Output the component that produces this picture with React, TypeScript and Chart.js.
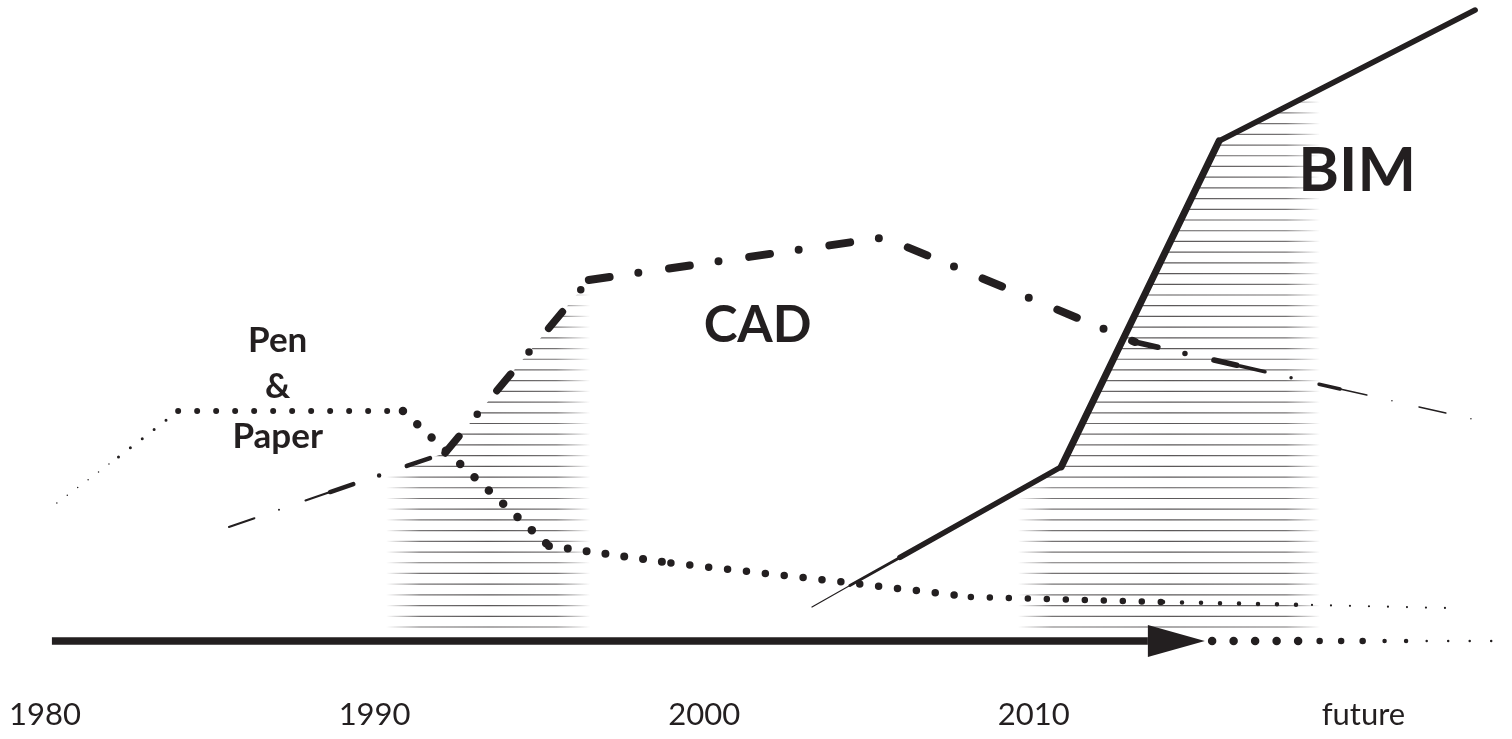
import React, { useEffect, useRef } from "react";
import { Chart, registerables } from "chart.js";

Chart.register(...registerables);

// ---- data (x = year, y = adoption level) ----
const TICK_YEARS = [1980, 1990, 2000, 2010, 2020];
const TICK_LABELS = ["1980", "1990", "2000", "2010", "future"];

const PEN_YEARS = [1980.36, 1982.23, 1984.04, 1990.86, 1995.29, 1998.99, 2004.21, 2008.09, 2013.92, 2018.44, 2022.48];
const PEN_LEVELS = [21.53, 28.7, 35.88, 35.88, 14.82, 12.17, 9.2, 6.86, 6.08, 5.62, 5.15];

const CAD_YEARS = [1985.58, 1988.65, 1992.14, 1996.5, 2005.46, 2013.07, 2016.26, 2019.29, 2023.3];
const CAD_LEVELS = [17.78, 23.24, 29.33, 56.32, 62.95, 46.65, 42.89, 39.31, 34.63];

const BIM_YEARS = [2003.27, 2004.42, 2005.94, 2010.83, 2015.62, 2023.39];
const BIM_LEVELS = [5.3, 8.64, 13.03, 27.15, 78.0, 98.44];

const TIMELINE_YEARS = [1980.21, 2013.46];
const TIMELINE_LEVELS = [0, 0];
const ARROW_TIP_YEAR = 2015.19;

const FUTURE_YEARS = [2015.41, 2018.02, 2019.99, 2021.92, 2023.9];
const FUTURE_LEVELS = [0, 0, 0, 0, 0];

// hatched transition periods
const HATCH_DATASETS = [1, 2];
const HATCH_FROM = [1990.35, 2009.52];
const HATCH_TO = [1996.54, 2018.68];
const HATCH_FLOOR = 2.18;

const LABEL_TEXTS = ["Pen", "&", "Paper", "CAD", "BIM"];
const LABEL_YEARS = [1987.06, 1987.06, 1987.06, 2001.62, 2019.81];
const LABEL_LEVELS = [45.13, 37.86, 30.03, 46.69, 70.2];

// ---- styles ----
const INK = "#231f20";
const X_MIN = 1978.635;
const X_MAX = 2024.508;
const Y_MIN = -7.93;
const Y_MAX = 100;
const LABEL_SIZES = [35, 35, 35, 51, 62];

const PEN_WIDTHS = [1.5, 3, 6, 8.5, 8, 7.5, 7.5, 6.5, 4.5, 2.2];
const PEN_GAPS = [13, 15, 19, 19.5, 19, 19, 19, 19, 19, 19];
const CAD_WIDTHS = [2, 4.5, 7.5, 8, 8, 5.5, 3.5, 1.5];
const BIM_WIDTHS = [1.2, 2.8, 5.5, 7, 5.5];
const FUTURE_WIDTHS = [8.5, 6.5, 4.5, 2.5];

const pts = (xs: number[], ys: number[]) => xs.map((x, i) => ({ x, y: ys[i] }));

const dashDot = (w: number) => [Math.max(29 - w, 1), 25 + w / 2, 0, 27 + w / 2];

const hatchPlugin = {
  id: "hatch",
  beforeDatasetsDraw(chart: any) {
    const { ctx } = chart;
    const { x, y } = chart.scales;
    const yb = y.getPixelForValue(HATCH_FLOOR);
    const y0 = y.getPixelForValue(0);
    HATCH_DATASETS.forEach((di, k) => {
      const els = chart.getDatasetMeta(di).data;
      if (!els || !els.length) return;
      const x0 = x.getPixelForValue(HATCH_FROM[k]);
      const x1 = x.getPixelForValue(HATCH_TO[k]);
      if (!isFinite(x0) || !isFinite(x1)) return;
      ctx.save();
      ctx.beginPath();
      ctx.moveTo(els[0].x, els[0].y);
      for (let i = 1; i < els.length; i++) ctx.lineTo(els[i].x, els[i].y);
      ctx.lineTo(els[els.length - 1].x, y0);
      ctx.lineTo(els[0].x, y0);
      ctx.closePath();
      ctx.clip();
      const f = Math.min(0.3, 34 / (x1 - x0));
      const grad = ctx.createLinearGradient(x0, 0, x1, 0);
      grad.addColorStop(0, "rgba(35,31,32,0)");
      grad.addColorStop(f, "rgba(35,31,32,0.62)");
      grad.addColorStop(0.5, "rgba(35,31,32,0.75)");
      grad.addColorStop(1 - f, "rgba(35,31,32,0.62)");
      grad.addColorStop(1, "rgba(35,31,32,0)");
      ctx.strokeStyle = grad;
      ctx.lineWidth = 1.2;
      for (let yy = yb; yy > 0; yy -= 10.71) {
        ctx.beginPath();
        ctx.moveTo(x0, yy);
        ctx.lineTo(x1, yy);
        ctx.stroke();
      }
      ctx.restore();
    });
  },
};

const overlayPlugin = {
  id: "overlay",
  afterDatasetsDraw(chart: any) {
    const { ctx } = chart;
    const { x, y } = chart.scales;
    const bx = x.getPixelForValue(TIMELINE_YEARS[TIMELINE_YEARS.length - 1]);
    const tx = x.getPixelForValue(ARROW_TIP_YEAR);
    const yy = y.getPixelForValue(0);
    ctx.save();
    ctx.fillStyle = INK;
    ctx.beginPath();
    ctx.moveTo(bx, yy - 16);
    ctx.lineTo(tx, yy);
    ctx.lineTo(bx, yy + 16);
    ctx.closePath();
    ctx.fill();
    ctx.textAlign = "center";
    ctx.textBaseline = "alphabetic";
    LABEL_TEXTS.forEach((t, i) => {
      ctx.font = `bold ${LABEL_SIZES[i]}px Lato`;
      ctx.fillText(t, x.getPixelForValue(LABEL_YEARS[i]), y.getPixelForValue(LABEL_LEVELS[i]));
    });
    ctx.restore();
  },
};

export default function App() {
  const ref = useRef<HTMLCanvasElement>(null);
  useEffect(() => {
    if (!ref.current) return;
    const chart = new Chart(ref.current, {
      type: "line",
      data: {
        datasets: [
          {
            label: "Pen & Paper",
            data: pts(PEN_YEARS, PEN_LEVELS),
            borderColor: INK,
            borderCapStyle: "round",
            fill: false,
            segment: {
              borderWidth: (c: any) => PEN_WIDTHS[c.p0DataIndex],
              borderDash: (c: any) => [0, PEN_GAPS[c.p0DataIndex]],
            },
          },
          {
            label: "CAD",
            data: pts(CAD_YEARS, CAD_LEVELS),
            borderColor: INK,
            borderCapStyle: "round",
            fill: false,
            segment: {
              borderWidth: (c: any) => CAD_WIDTHS[c.p0DataIndex],
              borderDash: (c: any) => dashDot(CAD_WIDTHS[c.p0DataIndex]),
            },
          },
          {
            label: "BIM",
            data: pts(BIM_YEARS, BIM_LEVELS),
            borderColor: INK,
            borderCapStyle: "round",
            borderJoinStyle: "round",
            fill: false,
            segment: {
              borderWidth: (c: any) => BIM_WIDTHS[c.p0DataIndex],
            },
          },
          {
            label: "timeline",
            data: pts(TIMELINE_YEARS, TIMELINE_LEVELS),
            borderColor: INK,
            borderWidth: 7.5,
            borderCapStyle: "butt",
            fill: false,
          },
          {
            label: "future",
            data: pts(FUTURE_YEARS, FUTURE_LEVELS),
            borderColor: INK,
            borderCapStyle: "round",
            fill: false,
            segment: {
              borderWidth: (c: any) => FUTURE_WIDTHS[c.p0DataIndex],
              borderDash: () => [0, 21.5],
            },
          },
        ],
      },
      options: {
        animation: false,
        responsive: false,
        layout: { padding: 0 },
        elements: { point: { radius: 0, hoverRadius: 0 }, line: { tension: 0 } },
        plugins: {
          legend: { display: false },
          tooltip: { enabled: false },
        },
        scales: {
          x: {
            type: "linear",
            min: X_MIN,
            max: X_MAX,
            grid: { display: false, drawTicks: false },
            border: { display: false },
            afterBuildTicks: (scale: any) => {
              scale.ticks = TICK_YEARS.map((v) => ({ value: v }));
            },
            ticks: {
              autoSkip: false,
              maxRotation: 0,
              padding: 5,
              color: INK,
              font: { family: "Lato", size: 31 },
              callback: (_v: any, i: number) => TICK_LABELS[i],
            },
          },
          y: { type: "linear", display: false, min: Y_MIN, max: Y_MAX },
        },
      },
      plugins: [hatchPlugin, overlayPlugin],
    } as any);
    return () => chart.destroy();
  }, []);
  return (
    <div style={{ position: "fixed", left: 0, top: 0, width: 1512, height: 739, background: "#fff" }}>
      <canvas ref={ref} width={1512} height={739} style={{ display: "block" }} />
    </div>
  );
}
